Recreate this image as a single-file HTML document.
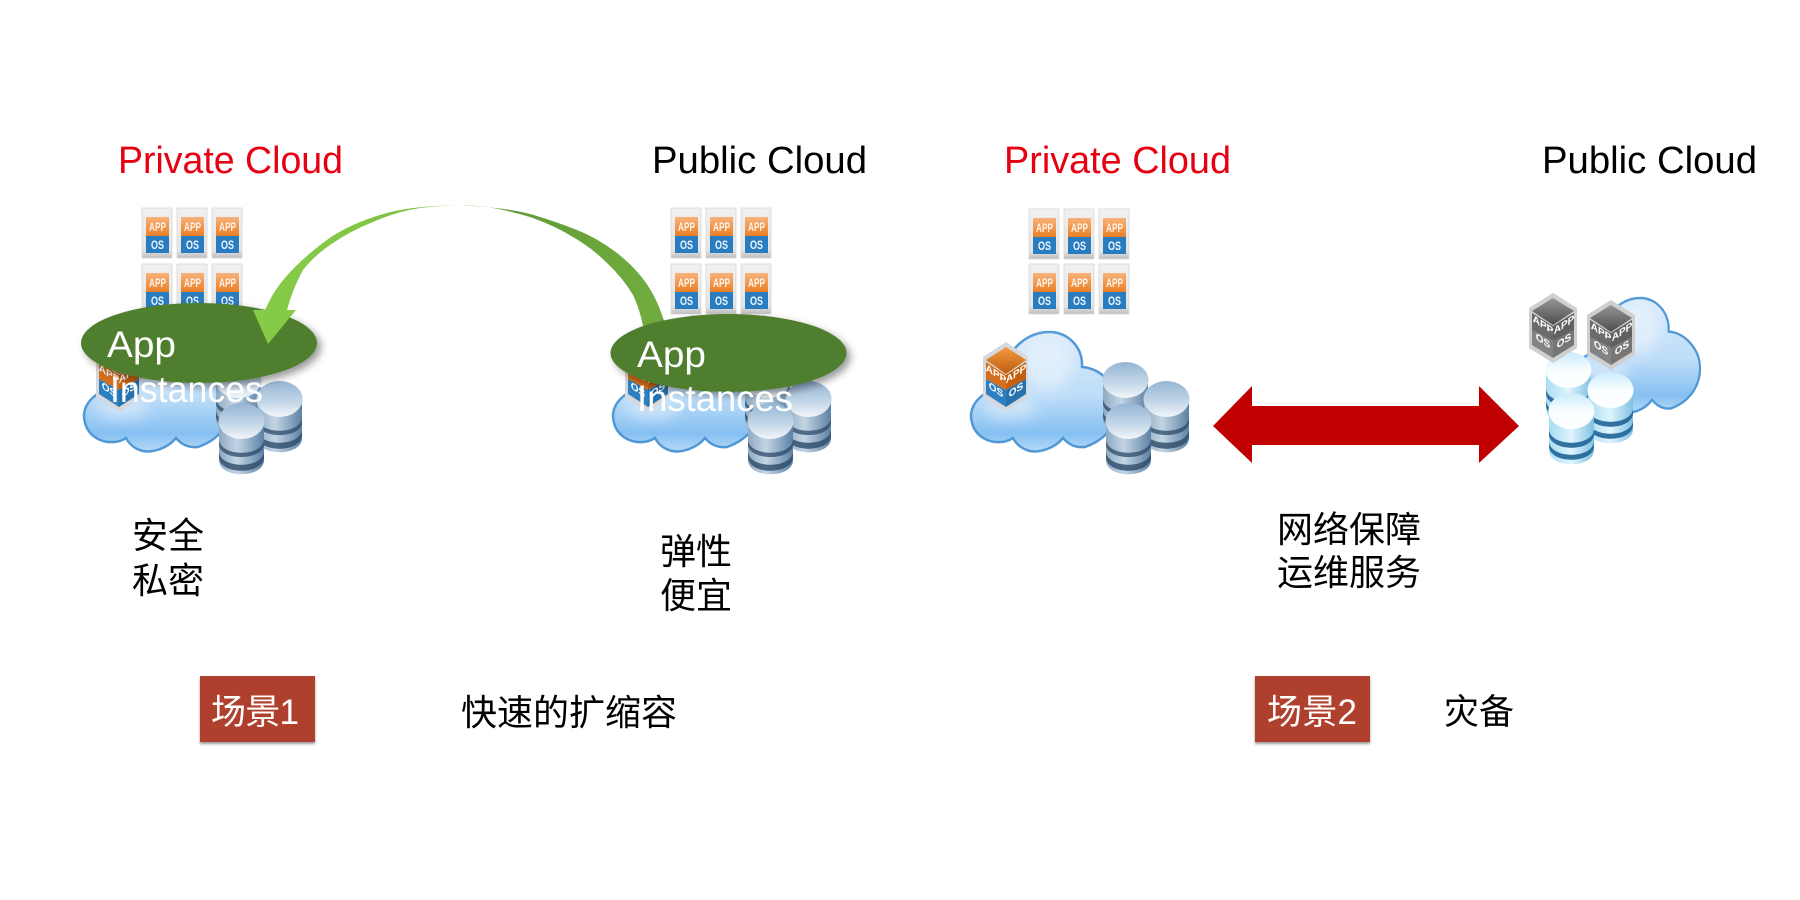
<!DOCTYPE html>
<html lang="zh-CN">
<head>
<meta charset="utf-8">
<title>Private and Public Cloud</title>
<style>
html,body{margin:0;padding:0;background:#fff;width:1800px;height:900px;overflow:hidden}
svg{display:block}
.en{font-family:"Liberation Sans",sans-serif;font-size:38px}
.cn{font-family:"Liberation Sans","Noto Sans CJK SC",sans-serif;font-size:36px;fill:#000}
.a{font-family:"Liberation Sans",sans-serif;font-size:12px;font-weight:bold;fill:#fdf3ea;text-anchor:middle}
.o{font-family:"Liberation Sans",sans-serif;font-size:12px;font-weight:bold;fill:#eef6fc;text-anchor:middle}
.c{font-family:"Liberation Sans",sans-serif;font-size:10px;font-weight:bold;fill:#fff;text-anchor:middle}
</style>
</head>
<body>
<svg width="1800" height="900" viewBox="0 0 1800 900" xmlns="http://www.w3.org/2000/svg">
<defs>
<linearGradient id="tileG" x1="0" y1="0" x2="0" y2="1"><stop offset="0" stop-color="#f1f1f1"/><stop offset=".85" stop-color="#e4e4e4"/><stop offset="1" stop-color="#bdbdbd"/></linearGradient>
<linearGradient id="orG" x1="0" y1="0" x2="0" y2="1"><stop offset="0" stop-color="#f8b27a"/><stop offset="1" stop-color="#ea7f26"/></linearGradient>
<linearGradient id="cloudG" x1="0" y1="0" x2="0" y2="1"><stop offset="0" stop-color="#dcecfb"/><stop offset=".55" stop-color="#bcdcf8"/><stop offset=".85" stop-color="#86c0f2"/><stop offset="1" stop-color="#b5d9f7"/></linearGradient>
<linearGradient id="arrowG" gradientUnits="userSpaceOnUse" x1="255" y1="0" x2="665" y2="0"><stop offset="0" stop-color="#86cc48"/><stop offset=".45" stop-color="#7fc144"/><stop offset=".62" stop-color="#5f9c36"/><stop offset="1" stop-color="#72ad40"/></linearGradient>
<linearGradient id="sideA" x1="0" y1="0" x2="1" y2="0"><stop offset="0" stop-color="#8fa9c2"/><stop offset=".4" stop-color="#c3d5e4"/><stop offset="1" stop-color="#5d81a3"/></linearGradient>
<linearGradient id="topA" x1="0" y1="0" x2="0" y2="1"><stop offset="0" stop-color="#95b5d4"/><stop offset=".6" stop-color="#c5d8e8"/><stop offset="1" stop-color="#f2f6fa"/></linearGradient>
<linearGradient id="sideB" x1="0" y1="0" x2="1" y2="0"><stop offset="0" stop-color="#a9dcf3"/><stop offset=".5" stop-color="#dff4fd"/><stop offset="1" stop-color="#7fc0e2"/></linearGradient>
<linearGradient id="topB" x1="0" y1="0" x2="0" y2="1"><stop offset="0" stop-color="#c9ecfa"/><stop offset=".5" stop-color="#f8fdff"/><stop offset="1" stop-color="#ffffff"/></linearGradient>
<linearGradient id="inO" x1="0" y1="0" x2="0" y2="1"><stop offset="0" stop-color="#f29a3d"/><stop offset="1" stop-color="#bf5d12"/></linearGradient>
<linearGradient id="inG" x1="0" y1="0" x2="0" y2="1"><stop offset="0" stop-color="#969696"/><stop offset="1" stop-color="#4d4d4d"/></linearGradient>
<filter id="shadow" x="-10%" y="-15%" width="125%" height="140%"><feDropShadow dx="4" dy="4" stdDeviation="4" flood-color="#000" flood-opacity=".4"/></filter>
<filter id="bs" x="-5%" y="-10%" width="110%" height="125%"><feDropShadow dx="0" dy="2" stdDeviation="1.2" flood-color="#000" flood-opacity=".4"/></filter>
<filter id="bl" x="-40%" y="-40%" width="180%" height="180%"><feGaussianBlur stdDeviation="7"/></filter>

<g id="tile">
<rect x="0" y="0" width="30" height="50" fill="url(#tileG)" stroke="#d8d8d8" stroke-width=".8"/>
<rect x="4" y="9" width="23" height="19" fill="url(#orG)"/>
<rect x="4" y="28" width="23" height="17" fill="#2a7cc0"/>
</g>

<path id="cloudP" d="M1013,438 C1000,447 972,442 971,416 C971,402 985,390 1003,386 C1000,358 1022,332 1049,332 C1068,332 1083,347 1082,367 C1100,368 1118,385 1118,405 C1118,425 1105,440 1085,447 C1075,448 1068,444 1063,438 C1055,448 1040,453 1030,451 C1022,449 1016,444 1013,438 Z"/>
<g id="cloud">
<use href="#cloudP" fill="url(#cloudG)" stroke="#4f97d6" stroke-width="2.5"/>
<ellipse cx="1047" cy="365" rx="24" ry="26" fill="#fff" opacity=".4" filter="url(#bl)"/>
<ellipse cx="1010" cy="408" rx="26" ry="12" fill="#fff" opacity=".4" filter="url(#bl)"/>
</g>

<g id="dbA">
<path d="M1,46 V57 C1,76 46,76 46,57 V46 Z" fill="url(#sideA)"/>
<path d="M1,49 C3,66 44,66 46,49 V55 C44,72 3,72 1,55 Z" fill="#2c4a68" opacity=".8"/>
<path d="M1,32 V44 C1,62 46,62 46,44 V32 Z" fill="url(#sideA)"/>
<path d="M1,37 C3,54 44,54 46,37 V42 C44,58 3,58 1,42 Z" fill="#2c4a68" opacity=".75"/>
<path d="M1,18 V30 C1,48 46,48 46,30 V18 Z" fill="url(#sideA)"/>
<ellipse cx="23.5" cy="18" rx="23" ry="18" fill="url(#topA)"/>
</g>
<g id="dbB">
<path d="M1,46 V57 C1,76 46,76 46,57 V46 Z" fill="url(#sideB)"/>
<path d="M1,49 C3,66 44,66 46,49 V54 C44,71 3,71 1,54 Z" fill="#1f6496" opacity=".9"/>
<path d="M1,32 V44 C1,62 46,62 46,44 V32 Z" fill="url(#sideB)"/>
<path d="M1,37 C3,54 44,54 46,37 V42 C44,59 3,59 1,42 Z" fill="#1f6496" opacity=".9"/>
<path d="M1,18 V30 C1,48 46,48 46,30 V18 Z" fill="url(#sideB)"/>
<ellipse cx="23.5" cy="18" rx="23" ry="18" fill="url(#topB)"/>
</g>

<g id="cubeO">
<path d="M23,0 L45,15 V55 L23,70 L0,55 V15 Z" fill="#d5d8dc"/>
<path d="M23,5 L43,18 L23,32 L3,18 Z" fill="url(#inO)"/>
<path d="M3,20 L23,33 V48 L3,37 Z" fill="#d66f1c"/>
<path d="M43,20 L23,33 V48 L43,37 Z" fill="#c2600f"/>
<path d="M3,37 L23,48 V65 L3,52 Z" fill="#2d7fc0"/>
<path d="M43,37 L23,48 V65 L43,52 Z" fill="#2472ae"/>
</g>
<g id="cubeG">
<path d="M24,0 L48,15 V55 L24,70 L0,55 V15 Z" fill="#cfcfcf"/>
<path d="M24,5 L45,18 L24,32 L3,18 Z" fill="url(#inG)"/>
<path d="M3,20 L24,33 V48 L3,37 Z" fill="#6b6b6b"/>
<path d="M45,20 L24,33 V48 L45,37 Z" fill="#606060"/>
<path d="M3,37 L24,48 V65 L3,52 Z" fill="#838383"/>
<path d="M45,37 L24,48 V65 L45,52 Z" fill="#767676"/>
</g>
</defs>

<rect width="1800" height="900" fill="#fff"/>

<!-- Titles -->
<text class="en" x="118" y="173" fill="#e60012" textLength="225" lengthAdjust="spacingAndGlyphs">Private Cloud</text>
<text class="en" x="652" y="173" fill="#000" textLength="215" lengthAdjust="spacingAndGlyphs">Public Cloud</text>
<text class="en" x="1004" y="173" fill="#e60012" textLength="227" lengthAdjust="spacingAndGlyphs">Private Cloud</text>
<text class="en" x="1542" y="173" fill="#000" textLength="215" lengthAdjust="spacingAndGlyphs">Public Cloud</text>

<!-- Tiles group 1 -->
<use href="#tile" x="142" y="208"/><text class="a" x="157.500" y="231" textLength="17" lengthAdjust="spacingAndGlyphs">APP</text><text class="o" x="157.500" y="249" textLength="13" lengthAdjust="spacingAndGlyphs">OS</text>
<use href="#tile" x="177" y="208"/><text class="a" x="192.500" y="231" textLength="17" lengthAdjust="spacingAndGlyphs">APP</text><text class="o" x="192.500" y="249" textLength="13" lengthAdjust="spacingAndGlyphs">OS</text>
<use href="#tile" x="212" y="208"/><text class="a" x="227.500" y="231" textLength="17" lengthAdjust="spacingAndGlyphs">APP</text><text class="o" x="227.500" y="249" textLength="13" lengthAdjust="spacingAndGlyphs">OS</text>
<use href="#tile" x="142" y="264"/><text class="a" x="157.500" y="287" textLength="17" lengthAdjust="spacingAndGlyphs">APP</text><text class="o" x="157.500" y="305" textLength="13" lengthAdjust="spacingAndGlyphs">OS</text>
<use href="#tile" x="177" y="264"/><text class="a" x="192.500" y="287" textLength="17" lengthAdjust="spacingAndGlyphs">APP</text><text class="o" x="192.500" y="305" textLength="13" lengthAdjust="spacingAndGlyphs">OS</text>
<use href="#tile" x="212" y="264"/><text class="a" x="227.500" y="287" textLength="17" lengthAdjust="spacingAndGlyphs">APP</text><text class="o" x="227.500" y="305" textLength="13" lengthAdjust="spacingAndGlyphs">OS</text>
<!-- Tiles group 2 -->
<use href="#tile" x="671" y="208"/><text class="a" x="686.500" y="231" textLength="17" lengthAdjust="spacingAndGlyphs">APP</text><text class="o" x="686.500" y="249" textLength="13" lengthAdjust="spacingAndGlyphs">OS</text>
<use href="#tile" x="706" y="208"/><text class="a" x="721.500" y="231" textLength="17" lengthAdjust="spacingAndGlyphs">APP</text><text class="o" x="721.500" y="249" textLength="13" lengthAdjust="spacingAndGlyphs">OS</text>
<use href="#tile" x="741" y="208"/><text class="a" x="756.500" y="231" textLength="17" lengthAdjust="spacingAndGlyphs">APP</text><text class="o" x="756.500" y="249" textLength="13" lengthAdjust="spacingAndGlyphs">OS</text>
<use href="#tile" x="671" y="264"/><text class="a" x="686.500" y="287" textLength="17" lengthAdjust="spacingAndGlyphs">APP</text><text class="o" x="686.500" y="305" textLength="13" lengthAdjust="spacingAndGlyphs">OS</text>
<use href="#tile" x="706" y="264"/><text class="a" x="721.500" y="287" textLength="17" lengthAdjust="spacingAndGlyphs">APP</text><text class="o" x="721.500" y="305" textLength="13" lengthAdjust="spacingAndGlyphs">OS</text>
<use href="#tile" x="741" y="264"/><text class="a" x="756.500" y="287" textLength="17" lengthAdjust="spacingAndGlyphs">APP</text><text class="o" x="756.500" y="305" textLength="13" lengthAdjust="spacingAndGlyphs">OS</text>
<!-- Tiles group 3 -->
<use href="#tile" x="1029" y="209"/><text class="a" x="1044.500" y="232" textLength="17" lengthAdjust="spacingAndGlyphs">APP</text><text class="o" x="1044.500" y="250" textLength="13" lengthAdjust="spacingAndGlyphs">OS</text>
<use href="#tile" x="1064" y="209"/><text class="a" x="1079.500" y="232" textLength="17" lengthAdjust="spacingAndGlyphs">APP</text><text class="o" x="1079.500" y="250" textLength="13" lengthAdjust="spacingAndGlyphs">OS</text>
<use href="#tile" x="1099" y="209"/><text class="a" x="1114.500" y="232" textLength="17" lengthAdjust="spacingAndGlyphs">APP</text><text class="o" x="1114.500" y="250" textLength="13" lengthAdjust="spacingAndGlyphs">OS</text>
<use href="#tile" x="1029" y="264"/><text class="a" x="1044.500" y="287" textLength="17" lengthAdjust="spacingAndGlyphs">APP</text><text class="o" x="1044.500" y="305" textLength="13" lengthAdjust="spacingAndGlyphs">OS</text>
<use href="#tile" x="1064" y="264"/><text class="a" x="1079.500" y="287" textLength="17" lengthAdjust="spacingAndGlyphs">APP</text><text class="o" x="1079.500" y="305" textLength="13" lengthAdjust="spacingAndGlyphs">OS</text>
<use href="#tile" x="1099" y="264"/><text class="a" x="1114.500" y="287" textLength="17" lengthAdjust="spacingAndGlyphs">APP</text><text class="o" x="1114.500" y="305" textLength="13" lengthAdjust="spacingAndGlyphs">OS</text>

<!-- Group 1 cloud -->
<g transform="translate(-887,0)"><use href="#cloud"/></g>
<g transform="translate(96,342)"><use href="#cubeO"/>
<text class="c" transform="translate(13,35) skewY(33)">APP</text><text class="c" transform="translate(13,51) skewY(33)">OS</text>
<text class="c" transform="translate(33,35) skewY(-33)">APP</text><text class="c" transform="translate(33,51) skewY(-33)">OS</text></g>
<use href="#dbA" x="215" y="362"/><use href="#dbA" x="256" y="381"/><use href="#dbA" x="218" y="403"/>

<!-- Group 2 cloud -->
<g transform="translate(-358,0)"><use href="#cloud"/></g>
<g transform="translate(625,342)"><use href="#cubeO"/>
<text class="c" transform="translate(13,35) skewY(33)">APP</text><text class="c" transform="translate(13,51) skewY(33)">OS</text>
<text class="c" transform="translate(33,35) skewY(-33)">APP</text><text class="c" transform="translate(33,51) skewY(-33)">OS</text></g>
<use href="#dbA" x="744" y="362"/><use href="#dbA" x="785" y="381"/><use href="#dbA" x="747" y="403"/>

<!-- Group 3 cloud -->
<use href="#cloud"/>
<g transform="translate(983,342)"><use href="#cubeO"/>
<text class="c" transform="translate(13,35) skewY(33)">APP</text><text class="c" transform="translate(13,51) skewY(33)">OS</text>
<text class="c" transform="translate(33,35) skewY(-33)">APP</text><text class="c" transform="translate(33,51) skewY(-33)">OS</text></g>
<use href="#dbA" x="1102" y="362"/><use href="#dbA" x="1143" y="381"/><use href="#dbA" x="1105" y="403"/>

<!-- Group 4 cloud -->
<g transform="translate(1700,298) scale(.87,.96) translate(-1118,-332)"><use href="#cloud"/></g>
<use href="#dbB" x="1545" y="352"/><use href="#dbB" x="1587" y="372"/><use href="#dbB" x="1548" y="393"/>
<g transform="translate(1529,293)"><use href="#cubeG"/>
<text class="c" transform="translate(14,35) skewY(33)">APP</text><text class="c" transform="translate(14,51) skewY(33)">OS</text>
<text class="c" transform="translate(35,35) skewY(-33)">APP</text><text class="c" transform="translate(35,51) skewY(-33)">OS</text></g>
<g transform="translate(1587,300)"><use href="#cubeG"/>
<text class="c" transform="translate(14,35) skewY(33)">APP</text><text class="c" transform="translate(14,51) skewY(33)">OS</text>
<text class="c" transform="translate(35,35) skewY(-33)">APP</text><text class="c" transform="translate(35,51) skewY(-33)">OS</text></g>

<!-- Ellipse 1 -->
<ellipse cx="199" cy="343" rx="118" ry="40" fill="#4f7f2e" filter="url(#shadow)"/>

<!-- Green arrow -->
<path d="M664,321 Q657,298 645,281.500 Q633,265 615,251.500 Q597,238 577,230 Q557,222 533.500,215 Q510,208 460,205 Q407,206 380,215 Q353,223 331,237 Q310,252 295,267 Q280,282 272,296 L265,310 L253,310 L268,344 L296,310 L287,310 Q293,288 303,270 Q314,256 330,245 Q350,231 373,222 Q395,212 420,208 Q440,205.500 460,205 Q478,205.500 493,208 Q515,212 533,218 Q555,226 573,237 Q592,248 607,263 Q623,278 633,295 Q640,310 643,326 Z" fill="url(#arrowG)"/>

<!-- Ellipse 2 -->
<ellipse cx="728.500" cy="353" rx="118" ry="39" fill="#4f7f2e" filter="url(#shadow)"/>

<text class="en" x="107" y="357" fill="#fff" style="font-size:37px" textLength="69" lengthAdjust="spacingAndGlyphs">App</text>
<text class="en" x="110" y="402" fill="#fff" style="font-size:37px" textLength="153" lengthAdjust="spacingAndGlyphs">Instances</text>
<text class="en" x="637" y="367" fill="#fff" style="font-size:37px" textLength="69" lengthAdjust="spacingAndGlyphs">App</text>
<text class="en" x="637" y="411" fill="#fff" style="font-size:37px" textLength="156" lengthAdjust="spacingAndGlyphs">Instances</text>

<!-- Red double arrow -->
<path d="M1213,426 L1252,386 V406 H1479 V386 L1519,426 L1479,463 V445 H1252 V463 Z" fill="#c00000"/>

<!-- CN labels -->
<text class="cn" x="132" y="548">安全</text>
<text class="cn" x="132" y="593">私密</text>
<text class="cn" x="660" y="564">弹性</text>
<text class="cn" x="660" y="608">便宜</text>
<text class="cn" x="1277" y="542">网络保障</text>
<text class="cn" x="1277" y="585">运维服务</text>
<text class="cn" x="461" y="725">快速的扩缩容</text>
<text class="cn" x="1444" y="724" style="font-size:35px">灾备</text>

<!-- Scene boxes -->
<rect x="200" y="676" width="115" height="66" fill="#b0402e" filter="url(#bs)"/>
<text class="cn" x="211" y="724" style="font-size:35px;fill:#fff" textLength="88" lengthAdjust="spacing">场景1</text>
<rect x="1255" y="676" width="115" height="66" fill="#b0402e" filter="url(#bs)"/>
<text class="cn" x="1267" y="724" style="font-size:35px;fill:#fff" textLength="90" lengthAdjust="spacing">场景2</text>
</svg>
</body>
</html>
